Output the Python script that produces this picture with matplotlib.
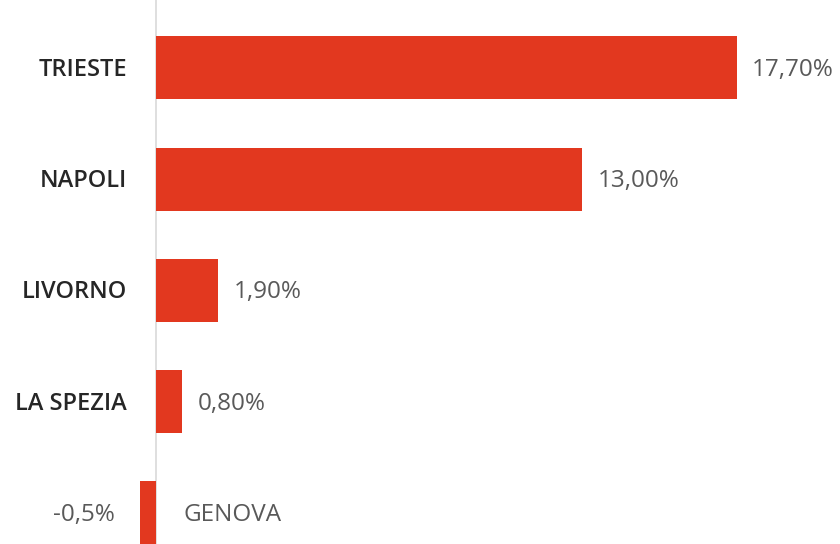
import matplotlib
matplotlib.use("Agg")
import matplotlib.pyplot as plt

categories = ["TRIESTE", "NAPOLI", "LIVORNO", "LA SPEZIA", "GENOVA"]
values = [17.7, 13.0, 1.9, 0.8, -0.5]
value_labels = ["17,70%", "13,00%", "1,90%", "0,80%", "-0,5%"]

fig = plt.figure(figsize=(8.4, 5.44), dpi=100)
ax = fig.add_axes([0, 0, 1, 1])
ypos = list(range(len(categories)))
ax.barh(ypos, values, height=0.566, color="#E2381F", zorder=2)
ax.set_xlim(-4.756, 20.85)
ax.set_ylim(4.279, -0.611)
ax.axvline(0, color="#D9D9D9", lw=1.2, zorder=1)
for s in ax.spines.values():
    s.set_visible(False)
ax.set_xticks([])
ax.set_yticks([])

font = "Open Sans"
for y, v, cat, lab in zip(ypos, values, categories, value_labels):
    if v >= 0:
        ax.annotate(cat, (0, y), xytext=(-29, -2), textcoords="offset pixels",
                    ha="right", va="center", fontsize=17, family=font,
                    fontweight="semibold", color="#262626")
        ax.annotate(lab, (v, y), xytext=(15, -2), textcoords="offset pixels",
                    ha="left", va="center", fontsize=17.5, family=font, color="#595959")
    else:
        ax.annotate(cat, (0, y), xytext=(27, -2), textcoords="offset pixels",
                    ha="left", va="center", fontsize=17.5, family=font, color="#595959")
        ax.annotate(lab, (v, y), xytext=(-25, -2), textcoords="offset pixels",
                    ha="right", va="center", fontsize=17.5, family=font, color="#595959")

fig.savefig("out.png", dpi=100)
